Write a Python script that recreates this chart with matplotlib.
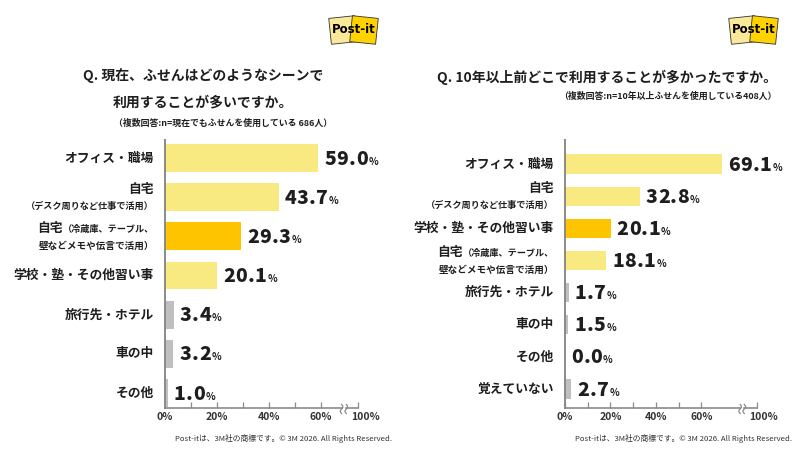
import matplotlib
matplotlib.use("Agg")
import matplotlib.pyplot as plt
import matplotlib.transforms as mtransforms
from matplotlib.patches import Rectangle
from matplotlib.lines import Line2D
import numpy as np

plt.rcParams['font.family'] = ['Noto Sans CJK JP', 'DejaVu Sans']

# --- data ---
now_labels = ["オフィス・職場",
              "自宅\n（デスク周りなど仕事で活用）",
              "自宅（冷蔵庫、テーブル、\n壁などメモや伝言で活用）",
              "学校・塾・その他習い事",
              "旅行先・ホテル",
              "車の中",
              "その他"]
now_values = [59.0, 43.7, 29.3, 20.1, 3.4, 3.2, 1.0]
now_highlight = 2

past_labels = ["オフィス・職場",
               "自宅\n（デスク周りなど仕事で活用）",
               "学校・塾・その他習い事",
               "自宅（冷蔵庫、テーブル、\n壁などメモや伝言で活用）",
               "旅行先・ホテル",
               "車の中",
               "その他",
               "覚えていない"]
past_values = [69.1, 32.8, 20.1, 18.1, 1.7, 1.5, 0.0, 2.7]
past_highlight = 2

tick_labels = ["0%", "20%", "40%", "60%", "100%"]

now_title = ["Q. 現在、ふせんはどのようなシーンで", "利用することが多いですか。"]
now_note = "（複数回答:n=現在でもふせんを使用している 686人）"
past_title = "Q. 10年以上前どこで利用することが多かったですか。"
past_note = "（複数回答:n=10年以上ふせんを使用している408人）"
footer = "Post-itは、3M社の商標です。© 3M 2026. All Rights Reserved."

LIGHT = "#F8EA80"
HIGH = "#FFC400"
GRAY = "#BFBFBF"
TXT = "#1E1E1E"
AXC = "#8A8A8A"

W, H = 800, 450
fig = plt.figure(figsize=(8, 4.5), dpi=100)
renderer = fig.canvas.get_renderer()


def px_rect(x0, x1, ytop, ybot):
    return [x0 / W, 1 - ybot / H, (x1 - x0) / W, (ybot - ytop) / H]


def draw_chart(rect, labels, values, highlight, xmax, xbreak, ylim, bar_h):
    ax = fig.add_axes(rect)
    n = len(values)
    y = np.arange(n)
    colors = []
    for i, v in enumerate(values):
        if i == highlight:
            colors.append(HIGH)
        elif v < 5:
            colors.append(GRAY)
        else:
            colors.append(LIGHT)
    ax.barh(y, values, height=bar_h, color=colors, zorder=2)
    ax.set_xlim(0, xmax)
    ax.set_ylim(*ylim)
    for s in ["top", "right", "bottom"]:
        ax.spines[s].set_visible(False)
    ax.spines["left"].set_color(AXC)
    ax.spines["left"].set_linewidth(1.4)
    ax.spines["left"].set_zorder(3)
    ax.set_yticks([])
    ax.set_xticks([0, 20, 40, 60, xmax])
    ax.set_xticklabels(tick_labels)
    ax.set_xticks([10, 30, 50], minor=True)
    ax.tick_params(axis="x", which="both", direction="in", length=4.5,
                   width=0.9, color=AXC, pad=3)
    ax.tick_params(axis="x", labelsize=7.5, labelcolor="#333333")
    for t in ax.get_xticklabels():
        t.set_fontweight("bold")
    last = ax.get_xticklabels()[-1]
    last.set_transform(last.get_transform() +
                       mtransforms.ScaledTranslation(7 / 100, 0,
                                                     fig.dpi_scale_trans))

    # bottom axis with a break
    xt = ax.get_xaxis_transform()
    ax.plot([0, xbreak - 0.9], [0, 0], color=AXC, lw=1.2, transform=xt,
            clip_on=False, zorder=3)
    ax.plot([xbreak + 0.9, xmax], [0, 0], color=AXC, lw=1.2, transform=xt,
            clip_on=False, zorder=3)
    for xb in [xbreak - 0.9, xbreak + 0.9]:
        px = ax.transData.transform((xb, 0))[0]
        py = ax.transAxes.transform((0, 0))[1]
        tt = np.linspace(-1, 1, 30)
        xs = px + 1.3 * np.sin(tt * np.pi)
        ys = py - 1 + 4.5 * tt
        fig.add_artist(Line2D(xs / W, ys / H, color=AXC, lw=0.9,
                              transform=fig.transFigure))

    # value labels, slightly letter-spaced
    for i, v in enumerate(values):
        cur = 6
        for ch in f"{v:.1f}":
            t = ax.annotate(ch, xy=(v, i), xytext=(cur, -6.5),
                            textcoords="offset pixels", ha="left",
                            va="baseline", fontsize=14, fontweight="heavy",
                            color=TXT)
            cur += t.get_window_extent(renderer).width + 0.4
        ax.annotate("%", xy=(v, i), xytext=(cur + 0.5, -6.5),
                    textcoords="offset pixels", ha="left", va="baseline",
                    fontsize=7.2, fontweight="bold", color=TXT)

    # category labels
    yt = ax.get_yaxis_transform()
    for i, lab in enumerate(labels):
        lines = lab.split("\n")
        if len(lines) == 1:
            ax.annotate(lab, xy=(0, i), xycoords=yt, xytext=(-11, 0),
                        textcoords="offset pixels", ha="right", va="center",
                        fontsize=9.2, fontweight="bold", color=TXT)
            continue
        first, second = lines
        dy1, dy2 = 8, -9
        if "（" in first:
            big, small = first.split("（", 1)
            t = ax.annotate("（" + small, xy=(0, i), xycoords=yt,
                            xytext=(-11, dy1 - 1), textcoords="offset pixels",
                            ha="right", va="center", fontsize=6.6,
                            fontweight="bold", color=TXT)
            w = t.get_window_extent(renderer).width
            ax.annotate(big, xy=(0, i), xycoords=yt, xytext=(-11 - w, dy1),
                        textcoords="offset pixels", ha="right", va="center",
                        fontsize=9.2, fontweight="bold", color=TXT)
            ax.annotate(second, xy=(0, i), xycoords=yt, xytext=(-11, dy2),
                        textcoords="offset pixels", ha="right", va="center",
                        fontsize=6.9, fontweight="bold", color=TXT)
        else:
            ax.annotate(first, xy=(0, i), xycoords=yt, xytext=(-11, dy1),
                        textcoords="offset pixels", ha="right", va="center",
                        fontsize=9.2, fontweight="bold", color=TXT)
            ax.annotate(second, xy=(0, i), xycoords=yt, xytext=(-11, dy2),
                        textcoords="offset pixels", ha="right", va="center",
                        fontsize=6.6, fontweight="bold", color=TXT)
    return ax


def draw_logo(cx, cy):
    lax = fig.add_axes(px_rect(cx - 32, cx + 32, cy - 18, cy + 18))
    lax.set_xlim(-32, 32)
    lax.set_ylim(-18, 18)
    lax.axis("off")
    lax.add_patch(Rectangle((-24, -13), 26, 26, angle=6,
                            rotation_point="center", facecolor="#FBE99A",
                            edgecolor="#333333", lw=0.6))
    lax.add_patch(Rectangle((-3, -13), 26, 26, angle=-6,
                            rotation_point="center", facecolor="#FFD200",
                            edgecolor="#333333", lw=0.6))
    lax.text(0, 0.5, "Post-it", ha="center", va="center", fontsize=8.5,
             fontweight="bold", color="black", family="DejaVu Sans")


# left chart
draw_chart(px_rect(165, 358, 140, 408), now_labels, now_values, now_highlight,
           xmax=74.2, xbreak=68.8, ylim=(6.38, -0.46), bar_h=0.71)
# right chart
draw_chart(px_rect(565, 757, 140, 408), past_labels, past_values,
           past_highlight, xmax=84.5, xbreak=78.0, ylim=(7.59, -0.75),
           bar_h=0.6)

# titles
fig.text(203 / W, 1 - 76 / H, now_title[0], ha="center", va="center",
         fontsize=10, fontweight="bold", color=TXT)
fig.text(203 / W, 1 - 102 / H, now_title[1], ha="center", va="center",
         fontsize=10, fontweight="bold", color=TXT)
fig.text(332 / W, 1 - 123 / H, now_note, ha="right", va="center",
         fontsize=6.4, fontweight="bold", color=TXT)
fig.text(777 / W, 1 - 77 / H, past_title, ha="right", va="center",
         fontsize=10, fontweight="bold", color=TXT)
fig.text(777 / W, 1 - 96 / H, past_note, ha="right", va="center",
         fontsize=6.4, fontweight="bold", color=TXT)

# footers
fig.text(392 / W, 1 - 438 / H, footer, ha="right", va="center",
         fontsize=5.6, color="#333333")
fig.text(792 / W, 1 - 438 / H, footer, ha="right", va="center",
         fontsize=5.6, color="#333333")

draw_logo(354, 30)
draw_logo(754, 30)

fig.savefig("out.png", dpi=100)
